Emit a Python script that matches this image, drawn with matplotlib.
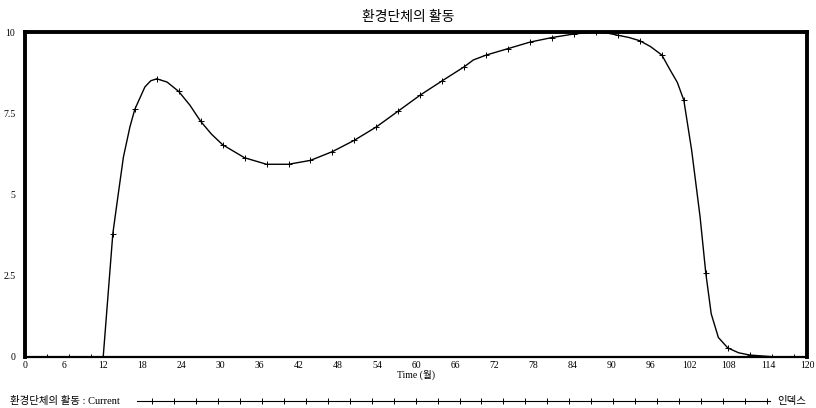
import matplotlib
matplotlib.use("Agg")
import matplotlib.pyplot as plt
from matplotlib.lines import Line2D

# Values (Vensim style output)
months = [0, 3.37, 6.74, 10.11, 12.0, 13.48, 14.3, 15.1, 16.1, 16.85, 18.4,
          19.3, 20.22, 21.8, 23.59, 25.3, 26.96, 28.6, 30.33, 33.7, 37.07,
          40.44, 43.81, 47.18, 50.55, 53.92, 57.29, 60.66, 64.03, 67.4, 68.8,
          70.77, 74.14, 77.51, 80.88, 84.25, 87.62, 89.3, 90.99, 92.7, 94.36,
          96.0, 97.73, 99.0, 100.1, 101.1, 102.3, 103.6, 104.47, 105.3, 106.4,
          107.84, 109.5, 111.21, 114.58, 117.95, 120]
activity = [0, 0, 0, 0, 0, 3.8, 5.0, 6.15, 7.08, 7.62, 8.31,
            8.5, 8.56, 8.46, 8.17, 7.75, 7.25, 6.86, 6.53, 6.13, 5.93,
            5.93, 6.05, 6.32, 6.67, 7.08, 7.57, 8.06, 8.5, 8.93, 9.14,
            9.29, 9.49, 9.69, 9.83, 9.94, 10.0, 9.97, 9.9, 9.83, 9.73,
            9.55, 9.29, 8.83, 8.45, 7.9, 6.36, 4.3, 2.58, 1.33, 0.6,
            0.28, 0.13, 0.06, 0.01, 0.0, 0.0]
# months where the line carries a "+" marker
marker_months = [3.37, 6.74, 10.11, 13.48, 16.85, 20.22, 23.59, 26.96, 30.33,
                 33.7, 37.07, 40.44, 43.81, 47.18, 50.55, 53.92, 57.29, 60.66,
                 64.03, 67.4, 70.77, 74.14, 77.51, 80.88, 84.25, 87.62, 90.99,
                 94.36, 97.73, 101.1, 104.47, 107.84, 111.21, 114.58, 117.95]
marker_idx = [months.index(m) for m in marker_months]

x_ticks = list(range(0, 121, 6))
y_ticks = [0, 2.5, 5, 7.5, 10]
y_tick_labels = ["0", "2.5", "5", "7.5", "10"]

title = "환경단체의 활동"
x_label = "Time (월)"
legend_label = "환경단체의 활동 : Current"
unit_label = "인덱스"

serif = ["Liberation Serif", "Noto Sans CJK KR", "DejaVu Sans"]
korean = ["Noto Sans CJK KR", "DejaVu Sans"]

fig = plt.figure(figsize=(8.16, 4.08), dpi=100)
ax = fig.add_axes([25 / 816, 51 / 408, 782 / 816, 325 / 408])

ax.plot(months, activity, color="black", linewidth=1.0,
        marker="+", markersize=4.5, markeredgewidth=0.7, markevery=marker_idx)

ax.set_xlim(0, 120)
ax.set_ylim(0, 10)
ax.set_xticks(x_ticks)
ax.set_xticklabels([str(t) for t in x_ticks], family=serif, fontsize=7)
ax.set_yticks(y_ticks)
ax.set_yticklabels(y_tick_labels, family=serif, fontsize=7)

# thick frame like the original, thin baseline
for side in ["left", "top", "right"]:
    ax.spines[side].set_linewidth(2.8)
ax.spines["bottom"].set_linewidth(1.6)

# grid marks show as small white notches in the frame
ax.tick_params(axis="x", top=True, bottom=False, color="white", length=2.5,
               width=1, direction="in", pad=3)
ax.tick_params(axis="y", left=True, right=True, color="white", length=2.5,
               width=1, direction="in", pad=7)

ax.set_xlabel(x_label, family=serif, fontsize=7, labelpad=0)
fig.text(0.5, 1 - 17 / 408, title, family=korean, fontsize=10,
         ha="center", va="center")

# legend row at the bottom
ly = 1 - 401 / 408
fig.text(10 / 816, ly, legend_label, family=serif, fontsize=7.5,
         ha="left", va="center")
fig.add_artist(Line2D([137 / 816, 770 / 816], [ly, ly], color="black",
                      linewidth=0.8, transform=fig.transFigure))
leg_x = [(152 + i * (767 - 152) / 28) / 816 for i in range(29)]
fig.add_artist(Line2D(leg_x, [ly] * len(leg_x), linestyle="none", marker="+",
                      markersize=4.5, markeredgewidth=0.7, color="black",
                      transform=fig.transFigure))
fig.text(777 / 816, ly, unit_label, family=korean, fontsize=7.5,
         ha="left", va="center")

fig.savefig("out.png", dpi=100)
